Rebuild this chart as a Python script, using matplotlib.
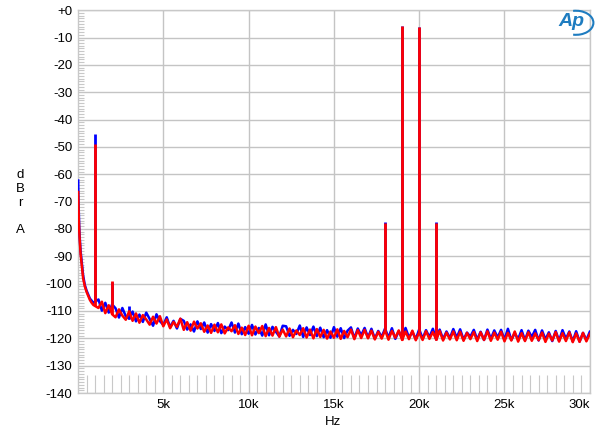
# FFT-Spektrum (Audio Precision Stil): Grundrauschen + Spitzen, blau und rot
import matplotlib
matplotlib.use('Agg')
import matplotlib.pyplot as plt
from matplotlib.patches import Arc
import numpy as np

plt.rcParams['font.family'] = ['Liberation Sans', 'DejaVu Sans']

# Frequenzen (Hz): tiefer Bereich einzeln, danach Raster 200 Hz
lo_freq = [12, 30, 50, 70, 90, 110, 150, 200, 250, 300, 400, 500, 600, 700, 800, 900]
hi_freq = np.arange(1200, 30001, 200)

# Pegel (dBr) tiefer Bereich
blue_lo = [-62.3, -70, -75, -79, -82, -84, -88, -91, -94, -97, -100.5, -102.5, -104, -105.5, -106.2, -107]
red_lo = [-66.5, -72, -77, -80, -83, -85, -89, -92, -95, -98, -101, -103, -104.5, -106, -107, -107.8]

# Pegel (dBr) ab 1.2 kHz, je Zeile 1 kHz
blue_hi = [
    -105.8, -109.9, -107.0, -110.6, -107.6,
    -109.0, -112.4, -108.9, -111.9, -112.8,
    -110.2, -113.8, -111.3, -114.0, -110.6,
    -112.9, -115.4, -111.2, -113.7, -115.1,
    -112.3, -115.9, -113.6, -116.4, -112.9,
    -113.6, -116.8, -114.9, -117.5, -113.8,
    -116.6, -114.2, -117.9, -114.8, -117.3,
    -114.4, -118.1, -115.7, -117.0, -114.2,
    -117.9, -114.6, -118.5, -115.9, -118.3,
    -115.1, -118.6, -116.2, -119.0, -114.9,
    -118.9, -115.8, -117.6, -119.3, -115.4,
    -115.6, -119.1, -116.9, -118.4, -115.3,
    -119.5, -116.0, -118.8, -115.7, -119.2,
    -116.1, -119.6, -117.0, -119.8, -115.9,
    -119.4, -116.3, -119.9, -117.2, -116.0,
    -120.0, -116.4, -118.9, -116.2, -119.7,
    -116.5, -120.1, -117.3, -119.5, -116.4,
    -119.8, -116.3, -120.2, -117.4, -119.9,
    -116.2, -119.7, -117.6, -120.3, -116.7,
    -120.1, -117.0, -119.6, -116.5, -120.4,
    -116.8, -120.3, -117.5, -119.9, -116.6,
    -119.8, -116.7, -120.5, -117.9, -119.4,
    -116.9, -120.4, -117.6, -120.6, -116.8,
    -120.2, -117.1, -119.7, -116.9, -120.5,
    -116.5, -120.6, -118.1, -120.3, -117.0,
    -120.7, -117.2, -119.5, -116.9, -120.8,
    -117.1, -120.4, -117.8, -121.0, -117.3,
    -120.9, -117.0, -120.2, -117.5, -121.1,
    -117.4, -121.2, -118.0, -120.6, -117.6,
]
red_hi = [
    -108.9, -106.6, -110.8, -107.9, -111.2,
    -112.3, -109.4, -111.7, -113.2, -110.1,
    -113.6, -110.9, -114.3, -111.5, -113.1,
    -115.0, -112.1, -114.6, -111.9, -115.6,
    -113.1, -116.3, -114.0, -115.8, -112.8,
    -116.9, -114.1, -117.2, -113.9, -116.4,
    -114.5, -117.6, -115.3, -118.0, -115.0,
    -117.8, -114.9, -118.2, -116.0, -117.4,
    -115.2, -118.4, -116.1, -118.8, -115.4,
    -118.9, -115.7, -118.1, -115.5, -119.2,
    -116.2, -119.0, -115.9, -119.4, -116.8,
    -119.3, -116.4, -119.6, -117.1, -118.8,
    -116.3, -119.7, -116.8, -120.0, -116.6,
    -119.5, -116.9, -120.1, -117.5, -119.8,
    -116.7, -120.2, -117.3, -119.6, -116.8,
    -120.3, -117.0, -119.9, -116.9, -120.0,
    -117.2, -120.4, -117.6, -120.1, -117.0,
    -120.5, -117.3, -119.8, -117.1, -120.6,
    -117.5, -120.3, -117.2, -120.7, -117.8,
    -120.6, -117.4, -120.2, -117.7, -120.5,
    -117.3, -120.8, -117.9, -120.4, -117.5,
    -120.7, -117.6, -120.9, -118.0, -120.3,
    -117.7, -121.0, -117.8, -120.6, -117.4,
    -120.9, -117.9, -120.5, -117.6, -121.1,
    -118.0, -120.8, -117.5, -121.2, -118.1,
    -121.0, -117.8, -120.9, -118.2, -120.7,
    -117.9, -121.3, -118.3, -120.8, -117.7,
    -121.2, -118.1, -121.0, -117.8, -121.4,
    -118.2, -121.3, -118.0, -121.1, -118.4,
]

# Spitzen (Frequenz, Pegel)
blue_spike_f = [1000, 2000, 3000, 18000, 19000, 20000, 21000]
blue_spike_db = [-45.2, -99.5, -108.0, -77.4, -5.8, -6.2, -77.4]
red_spike_f = [1000, 2000, 18000, 19000, 20000, 21000]
red_spike_db = [-48.8, -99.0, -77.8, -5.6, -6.1, -77.8]

freq = np.concatenate([lo_freq, hi_freq])
blue = np.concatenate([blue_lo, blue_hi])
red = np.concatenate([red_lo, red_hi])

fig = plt.figure(figsize=(6, 4.38), dpi=100)
ax = fig.add_axes([0.13, 0.1027, 0.853, 0.874])

for f, y, sf, sdb, c in [(freq, blue, blue_spike_f, blue_spike_db, '#0000ff'),
                          (freq, red, red_spike_f, red_spike_db, '#ff0000')]:
    ax.plot(f, y, color=c, lw=1.8, zorder=3)
    base = np.interp(sf, f, y)
    ax.vlines(sf, base, sdb, color=c, lw=2.0, zorder=3)

ax.set_xlim(0, 30000)
ax.set_ylim(-140, 0)

ax.set_yticks(np.arange(-140, 1, 10))
ax.set_yticklabels(['-140', '-130', '-120', '-110', '-100', '-90', '-80', '-70',
                    '-60', '-50', '-40', '-30', '-20', '-10', '+0'])
ax.set_xticks(np.arange(5000, 30001, 5000))
ax.set_xticklabels(['5k', '10k', '15k', '20k', '25k', '30k'])
ax.get_xticklabels()[-1].set_horizontalalignment('right')
ax.set_yticks(np.arange(-140, 0, 1), minor=True)
ax.set_xticks(np.arange(500, 30000, 500), minor=True)

ax.grid(True, which='major', color='#c4c4c4', lw=1.0)
ax.tick_params(which='major', length=0, labelsize=9.5, pad=4)
ax.tick_params(axis='y', which='minor', direction='in', length=4, color='#c8c8c8', width=0.8)
ax.tick_params(axis='x', which='minor', direction='in', length=13, color='#c8c8c8', width=0.8)
for s in ax.spines.values():
    s.set_color('#c8c8c8')
    s.set_linewidth(1.0)

fig.text(0.555, 0.036, 'Hz', ha='center', va='center', fontsize=9.5)
fig.text(0.034, 0.537, 'd\nB\nr\n\nA', ha='center', va='center', fontsize=9.5, linespacing=1.2)

# AP-Logo
fig.text(0.953, 0.950, 'Ap', ha='center', va='center', fontsize=14, style='italic',
         fontweight='bold', color='#1e7cc0')
fig.add_artist(Arc((0.960, 0.948), 0.058, 0.055, theta1=-100, theta2=100,
                   transform=fig.transFigure, color='#1e7cc0', lw=1.5))

fig.savefig('out.png', dpi=100)
